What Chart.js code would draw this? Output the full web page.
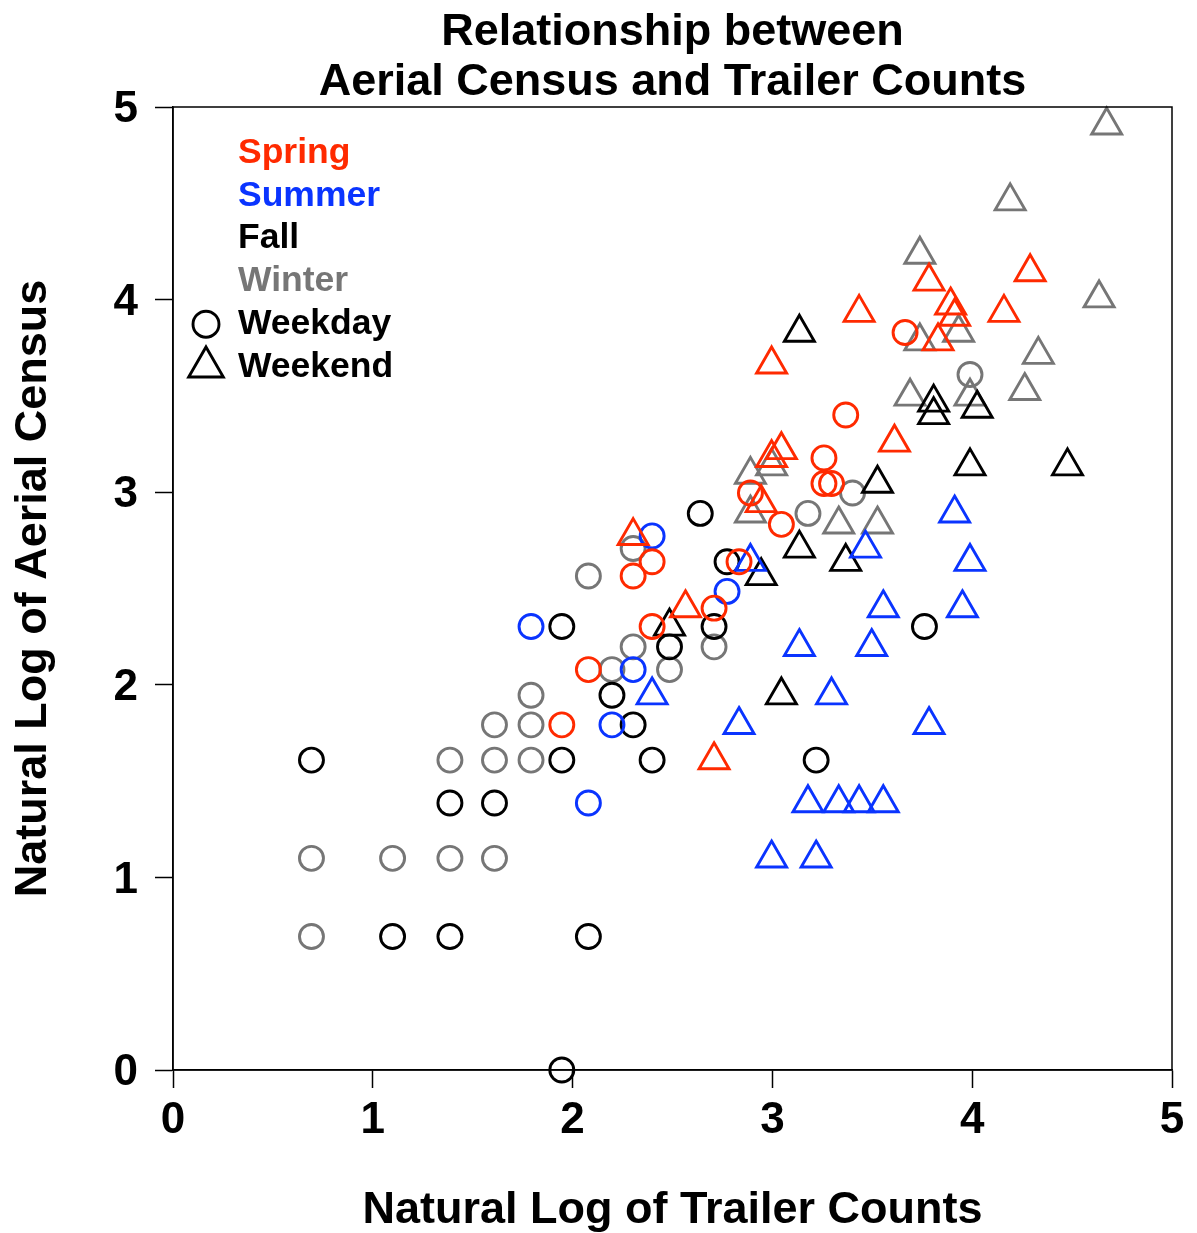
<!DOCTYPE html>
<html>
<head>
<meta charset="utf-8">
<script src="https://cdn.jsdelivr.net/npm/chart.js@4.4.1/dist/chart.umd.min.js"></script>
<style>
  html, body { margin: 0; padding: 0; background: #ffffff; }
  #wrap { width: 1197px; height: 1233px; }
</style>
</head>
<body>
<div id="wrap"><canvas id="chart" width="1197" height="1233"></canvas></div>
<script>
// ln(trailer count) vs ln(aerial census), by season and day type
const seasons = ['Spring', 'Summer', 'Fall', 'Winter'];
const dayTypes = ['Weekday', 'Weekend'];
const xTicks = [0, 1, 2, 3, 4, 5];
const yTicks = [0, 1, 2, 3, 4, 5];

const springWeekdayX = [1.946, 2.079, 2.303, 2.398, 2.398, 2.708, 2.833, 3.045, 2.890, 3.258, 3.258, 3.296, 3.367, 3.664];
const springWeekdayY = [1.792, 2.079, 2.565, 2.303, 2.639, 2.398, 2.639, 2.833, 2.996, 3.178, 3.045, 3.045, 3.401, 3.829];
const springWeekendX = [2.303, 2.565, 2.708, 2.944, 2.996, 3.045, 2.996, 3.434, 3.611, 3.784, 3.892, 3.912, 3.829, 4.159, 4.290];
const springWeekendY = [2.773, 2.398, 1.609, 2.944, 3.178, 3.219, 3.664, 3.932, 3.258, 4.094, 3.970, 3.912, 3.784, 3.932, 4.143];

const summerWeekdayX = [1.792, 2.079, 2.197, 2.303, 2.398, 2.773];
const summerWeekdayY = [2.303, 1.386, 1.792, 2.079, 2.773, 2.485];
const summerWeekendX = [2.398, 2.833, 2.890, 2.996, 3.219, 3.135, 3.178, 3.296, 3.332, 3.434, 3.466, 3.497, 3.555, 3.555, 3.784, 3.912, 3.951, 3.989];
const summerWeekendY = [1.946, 1.792, 2.639, 1.099, 1.099, 2.197, 1.386, 1.946, 1.386, 1.386, 2.708, 2.197, 2.398, 1.386, 1.792, 2.890, 2.398, 2.639];

const fallWeekdayX = [0.693, 1.099, 1.386, 1.386, 1.609, 1.946, 1.946, 1.946, 2.079, 2.197, 2.303, 2.398, 2.485, 2.639, 2.708, 2.773, 3.219, 3.761];
const fallWeekdayY = [1.609, 0.693, 0.693, 1.386, 1.386, 2.303, 1.609, 0.000, 0.693, 1.946, 1.792, 1.609, 2.197, 2.890, 2.303, 2.639, 1.609, 2.303];
const fallWeekendX = [2.485, 2.944, 3.045, 3.135, 3.135, 3.367, 3.526, 3.807, 3.807, 3.989, 4.025, 4.477];
const fallWeekendY = [2.303, 2.565, 1.946, 2.708, 3.829, 2.639, 3.045, 3.466, 3.401, 3.135, 3.434, 3.135];

const winterWeekdayX = [0.693, 0.693, 1.099, 1.386, 1.386, 1.609, 1.609, 1.609, 1.792, 1.792, 1.792, 2.079, 2.197, 2.303, 2.303, 2.485, 2.708, 3.178, 3.401, 3.989];
const winterWeekdayY = [0.693, 1.099, 1.099, 1.099, 1.609, 1.099, 1.609, 1.792, 1.609, 1.792, 1.946, 2.565, 2.079, 2.197, 2.708, 2.079, 2.197, 2.890, 2.996, 3.611];
const winterWeekendX = [2.890, 2.890, 2.996, 3.332, 3.526, 3.689, 3.738, 3.738, 3.932, 3.989, 4.190, 4.263, 4.331, 4.635, 4.673];
const winterWeekendY = [2.890, 3.091, 3.135, 2.833, 2.833, 3.497, 3.784, 4.234, 3.829, 3.497, 4.511, 3.526, 3.714, 4.007, 4.905];

const FONT = '"Liberation Sans", Arial, Helvetica, sans-serif';
const seasonColors = { Spring: '#ff2a00', Summer: '#0a34ff', Fall: '#000000', Winter: '#767676' };
const markerStyle = {
  Weekday: { pointStyle: 'circle', radius: 12 },
  Weekend: { pointStyle: 'triangle', radius: 17.3 }
};
const markerLine = 2.9;

function series(season, day, xs, ys) {
  const m = markerStyle[day];
  return {
    label: season + ' ' + day,
    data: xs.map((x, i) => ({ x: x, y: ys[i] })),
    showLine: false,
    clip: false,
    borderColor: seasonColors[season],
    backgroundColor: 'rgba(0,0,0,0)',
    pointStyle: m.pointStyle,
    pointRadius: m.radius,
    pointBorderWidth: markerLine,
    pointBackgroundColor: 'rgba(0,0,0,0)',
    pointBorderColor: seasonColors[season]
  };
}

const datasets = [
  series('Spring', 'Weekday', springWeekdayX, springWeekdayY),
  series('Spring', 'Weekend', springWeekendX, springWeekendY),
  series('Summer', 'Weekday', summerWeekdayX, summerWeekdayY),
  series('Summer', 'Weekend', summerWeekendX, summerWeekendY),
  series('Fall', 'Weekday', fallWeekdayX, fallWeekdayY),
  series('Fall', 'Weekend', fallWeekendX, fallWeekendY),
  series('Winter', 'Weekday', winterWeekdayX, winterWeekdayY),
  series('Winter', 'Weekend', winterWeekendX, winterWeekendY)
];

// Box around the plotting region plus the colour / symbol key in the top-left corner
const frameAndKey = {
  id: 'frameAndKey',
  afterDraw(chart) {
    const ctx = chart.ctx;
    const a = chart.chartArea;
    ctx.save();
    ctx.strokeStyle = '#000';
    ctx.lineWidth = 1.5;
    ctx.strokeRect(a.left, a.top, a.right - a.left, a.bottom - a.top);

    ctx.font = 'bold 35.5px ' + FONT;
    ctx.textBaseline = 'middle';
    ctx.textAlign = 'left';
    const tx = a.left + 65;
    const ty0 = a.top + 46;
    const step = 42.8;
    seasons.forEach((s, i) => {
      ctx.fillStyle = seasonColors[s];
      ctx.fillText(s, tx, ty0 + i * step);
    });
    dayTypes.forEach((d, j) => {
      const y = ty0 + (seasons.length + j) * step;
      ctx.fillStyle = '#000';
      ctx.fillText(d, tx, y);
      ctx.fillStyle = 'rgba(0,0,0,0)';
      ctx.strokeStyle = '#000';
      ctx.lineWidth = markerLine;
      Chart.helpers.drawPoint(ctx, {
        pointStyle: markerStyle[d].pointStyle,
        radius: d === 'Weekday' ? 13 : 20,
        borderWidth: markerLine,
        rotation: 0
      }, a.left + 33, y);
    });
    ctx.restore();
  }
};

const tickFont = { family: FONT, size: 44, weight: 'bold', lineHeight: 1.2 };

new Chart(document.getElementById('chart'), {
  type: 'scatter',
  data: { datasets: datasets },
  plugins: [frameAndKey],
  options: {
    responsive: false,
    devicePixelRatio: 1,
    animation: false,
    events: [],
    layout: { padding: { left: 0, right: 25, top: 0, bottom: 0 } },
    plugins: {
      legend: { display: false },
      tooltip: { enabled: false },
      title: {
        display: true,
        fullSize: false,
        text: ['Relationship between', 'Aerial Census and Trailer Counts'],
        color: '#000',
        font: { family: FONT, size: 45, weight: 'bold', lineHeight: 49.5 / 45 },
        padding: { top: 8, bottom: 0 }
      }
    },
    scales: {
      x: {
        type: 'linear',
        position: 'bottom',
        min: 0,
        max: 5,
        afterBuildTicks: (s) => { s.ticks = xTicks.map(v => ({ value: v })); },
        afterFit: (s) => { s.height = 163; },
        ticks: { color: '#000', font: tickFont, padding: 6, maxRotation: 0, callback: (v) => String(v) },
        grid: { drawOnChartArea: false, drawTicks: true, tickLength: 18, tickWidth: 1.5, tickColor: '#000' },
        border: { display: true, color: '#000', width: 1.5 },
        title: { display: true, text: 'Natural Log of Trailer Counts', color: '#000',
                 font: { family: FONT, size: 45, weight: 'bold', lineHeight: 1.0 }, padding: { top: 0, bottom: 0 } }
      },
      y: {
        type: 'linear',
        position: 'left',
        min: 0,
        max: 5,
        afterBuildTicks: (s) => { s.ticks = yTicks.map(v => ({ value: v })); },
        afterFit: (s) => { s.width = 173; },
        ticks: { color: '#000', font: tickFont, padding: 17, labelOffset: 3, callback: (v) => String(v) },
        grid: { drawOnChartArea: false, drawTicks: true, tickLength: 18, tickWidth: 1.5, tickColor: '#000' },
        border: { display: true, color: '#000', width: 1.5 },
        title: { display: true, text: 'Natural Log of Aerial Census', color: '#000',
                 font: { family: FONT, size: 45, weight: 'bold', lineHeight: 1.2 }, padding: { top: 7, bottom: 0 } }
      }
    }
  }
});
</script>
</body>
</html>
